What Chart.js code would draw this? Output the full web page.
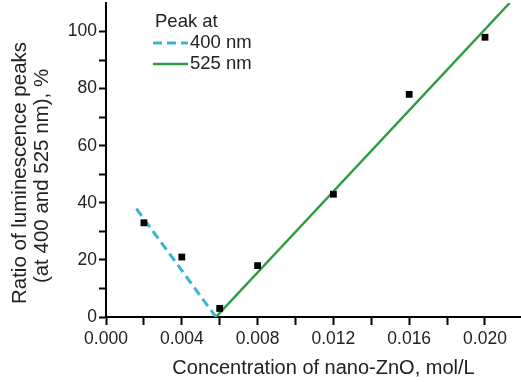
<!DOCTYPE html>
<html>
<head>
<meta charset="utf-8">
<script src="https://cdn.jsdelivr.net/npm/chart.js@4"></script>
<style>
  html, body { margin: 0; padding: 0; background: #fff; }
  #wrap { width: 521px; height: 382px; }
</style>
</head>
<body>
<div id="wrap"><canvas id="lumChart" width="521" height="382"></canvas></div>
<script>
// measured points
const concentrations = [0.002, 0.004, 0.006, 0.008, 0.012, 0.016, 0.020];
const ratios = [33, 21, 3, 18, 43, 78, 98];

// fitted lines (end points)
const fit400X = [0.0016, 0.0058];
const fit400Y = [38, 0];
const fit525X = [0.0058, 0.0213];
const fit525Y = [0, 110];

const legendTitle = 'Peak at';
const seriesNames = ['400 nm', '525 nm'];
const majorXTicks = [0.000, 0.004, 0.008, 0.012, 0.016, 0.020];
const majorYTicks = [0, 20, 40, 60, 80, 100];
const xTitle = 'Concentration of nano-ZnO, mol/L';
const yTitle = ['Ratio of luminescence peaks', '(at 400 and 525 nm), %'];

const blue = '#3ab3d6';
const green = '#2f9c44';
const font = 'Liberation Sans, Arial, sans-serif';

const toPoints = (xs, ys) => xs.map((x, i) => ({ x: x, y: ys[i] }));

// legend drawn inside the plot, like the original figure
const insideLegend = {
  id: 'insideLegend',
  afterDraw(chart) {
    const ctx = chart.ctx;
    const left = chart.chartArea.left + 47;
    const top = chart.chartArea.top;
    ctx.save();
    ctx.font = '18.5px ' + font;
    ctx.fillStyle = '#222';
    ctx.textBaseline = 'middle';
    ctx.fillText(legendTitle, left + 2, top + 19);
    const rows = [chart.data.datasets[0], chart.data.datasets[1]];
    rows.forEach((ds, i) => {
      const y = top + 40 + i * 21;
      ctx.beginPath();
      ctx.strokeStyle = ds.borderColor;
      ctx.lineWidth = ds.borderWidth;
      ctx.setLineDash(ds.borderDash || []);
      ctx.moveTo(left, y);
      ctx.lineTo(left + 35, y);
      ctx.stroke();
      ctx.setLineDash([]);
      ctx.fillText(seriesNames[i], left + 37, y);
    });
    ctx.restore();
  }
};

// axis titles, placed a bit off-centre as in the source figure
const axisTitles = {
  id: 'axisTitles',
  afterDraw(chart) {
    const ctx = chart.ctx;
    const area = chart.chartArea;
    ctx.save();
    ctx.fillStyle = '#222';
    ctx.textAlign = 'center';
    ctx.textBaseline = 'middle';
    ctx.font = '20px ' + font;
    ctx.fillText(xTitle, (area.left + area.right) / 2 + 10, 368);
    ctx.font = '20.5px ' + font;
    const cy = (area.top + area.bottom) / 2 + 13;
    yTitle.forEach((line, i) => {
      ctx.save();
      ctx.translate(20 + i * 22, cy + i * 3);
      ctx.rotate(-Math.PI / 2);
      ctx.fillText(line, 0, 0);
      ctx.restore();
    });
    ctx.restore();
  }
};

new Chart(document.getElementById('lumChart').getContext('2d'), {
  type: 'scatter',
  data: {
    datasets: [
      {
        label: seriesNames[0],
        data: toPoints(fit400X, fit400Y),
        showLine: true,
        borderColor: blue,
        borderWidth: 3,
        borderDash: [9, 5],
        pointRadius: 0,
        order: 2
      },
      {
        label: seriesNames[1],
        data: toPoints(fit525X, fit525Y),
        showLine: true,
        borderColor: green,
        borderWidth: 2.5,
        pointRadius: 0,
        order: 2
      },
      {
        label: 'data',
        data: toPoints(concentrations, ratios),
        pointStyle: 'rect',
        pointRadius: 4.8,
        backgroundColor: '#000',
        borderColor: '#000',
        borderWidth: 0,
        order: 1
      }
    ]
  },
  options: {
    responsive: false,
    animation: false,
    layout: { autoPadding: false, padding: { top: 3, right: 0, left: 0, bottom: 0 } },
    plugins: {
      legend: { display: false },
      tooltip: { enabled: false }
    },
    scales: {
      x: {
        type: 'linear',
        min: 0,
        max: 0.0219,
        afterFit(scale) {
          scale.height = 65;
          scale.paddingLeft = 0;
          scale.paddingRight = 0;
        },
        afterBuildTicks(scale) {
          scale.ticks = [];
          for (let i = 0; i <= 10; i++) scale.ticks.push({ value: +(i * 0.002).toFixed(3) });
        },
        ticks: {
          color: '#222',
          font: { family: font, size: 17.5 },
          padding: 4,
          maxRotation: 0,
          autoSkip: false,
          callback: (v) => majorXTicks.some(t => Math.abs(t - v) < 1e-9) ? v.toFixed(3) : ''
        },
        grid: {
          drawOnChartArea: false,
          drawTicks: true,
          tickLength: 8,
          tickColor: '#000',
          tickWidth: 2
        },
        border: { color: '#000', width: 2 }
      },
      y: {
        min: 0,
        max: 110,
        afterFit(scale) {
          scale.width = 106;
          scale.paddingTop = 0;
          scale.paddingBottom = 0;
        },
        afterBuildTicks(scale) {
          scale.ticks = [];
          for (let v = 0; v <= 100; v += 10) scale.ticks.push({ value: v });
        },
        ticks: {
          color: '#222',
          font: { family: font, size: 17.5 },
          padding: 2,
          autoSkip: false,
          callback: (v) => majorYTicks.includes(v) ? String(v) : ''
        },
        grid: {
          drawOnChartArea: false,
          drawTicks: true,
          tickLength: 7,
          tickColor: '#000',
          tickWidth: 2
        },
        border: { color: '#000', width: 2 }
      }
    }
  },
  plugins: [insideLegend, axisTitles]
});
</script>
</body>
</html>
